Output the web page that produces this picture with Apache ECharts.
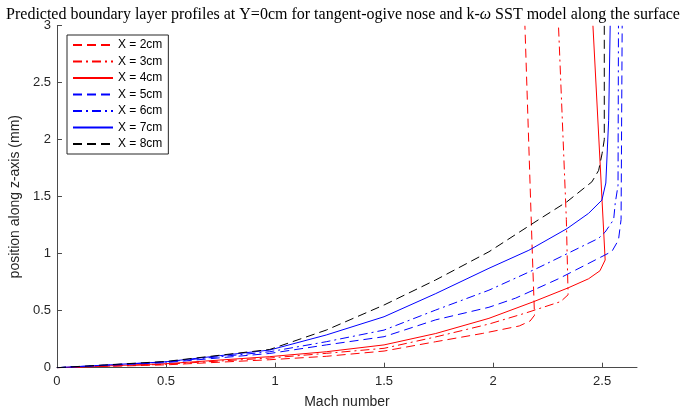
<!DOCTYPE html>
<html>
<head>
<meta charset="utf-8">
<script src="https://cdn.jsdelivr.net/npm/echarts@6/dist/echarts.min.js"></script>
<style>html,body{margin:0;padding:0;background:#fff}#c{width:686px;height:414px}</style>
</head>
<body>
<div id="c"></div>
<script>
const seriesNames = ['X = 2cm','X = 3cm','X = 4cm','X = 5cm','X = 6cm','X = 7cm','X = 8cm'];
const xTicks = [0, 0.5, 1, 1.5, 2, 2.5];
const yTicks = [0, 0.5, 1, 1.5, 2, 2.5, 3];
// [Mach number, position along z (mm)]
const x2cm = [[0,0],[0.5,0.025],[0.976,0.07],[1.235,0.10],[1.5,0.146],[1.737,0.228],[1.95,0.30],[2.12,0.366],[2.17,0.41],[2.19,0.46],[2.18,1.0],[2.146,3.0]];
const x3cm = [[0,0],[0.5,0.03],[0.976,0.085],[1.235,0.126],[1.5,0.17],[1.737,0.27],[1.981,0.383],[2.15,0.48],[2.31,0.58],[2.344,0.64],[2.336,1.3],[2.30,3.0]];
const x4cm = [[0,0],[0.5,0.035],[0.976,0.097],[1.235,0.14],[1.5,0.2],[1.737,0.30],[1.981,0.433],[2.187,0.58],[2.344,0.70],[2.438,0.78],[2.49,0.85],[2.514,0.945],[2.458,3.0]];
const x5cm = [[0,0],[0.5,0.045],[0.976,0.125],[1.235,0.2],[1.5,0.272],[1.737,0.42],[1.981,0.53],[2.103,0.61],[2.3,0.78],[2.484,0.96],[2.545,1.02],[2.575,1.12],[2.587,1.30],[2.592,3.0]];
const x6cm = [[0,0],[0.5,0.05],[0.976,0.14],[1.235,0.228],[1.5,0.33],[1.737,0.506],[1.981,0.68],[2.2,0.87],[2.484,1.135],[2.514,1.19],[2.553,1.30],[2.56,1.44],[2.573,1.6],[2.575,3.0]];
const x7cm = [[0,0],[0.5,0.052],[0.976,0.155],[1.235,0.287],[1.5,0.447],[1.737,0.65],[1.981,0.872],[2.164,1.03],[2.339,1.22],[2.438,1.354],[2.499,1.47],[2.517,1.62],[2.53,2.17],[2.537,3.0]];
const x8cm = [[0,0],[0.5,0.055],[0.976,0.16],[1.235,0.33],[1.5,0.55],[1.737,0.77],[1.981,1.017],[2.21,1.30],[2.339,1.456],[2.453,1.63],[2.484,1.73],[2.50,1.88],[2.51,2.0],[2.51,3.0]];

const allData = [x2cm, x3cm, x4cm, x5cm, x6cm, x7cm, x8cm];
const colors = ['#ff0000','#ff0000','#ff0000','#0000ff','#0000ff','#0000ff','#000000'];
const dashA = [9,5];
const dashDot = [9,4,2,4];
const types = [dashA, dashDot, 'solid', dashA, dashDot, 'solid', dashA];

const chart = echarts.init(document.getElementById('c'), null, {renderer:'canvas'});
const axisColor = '#4a4a4a';
chart.setOption({
  animation: false,
  backgroundColor: '#fff',
  title: {
    text: 'Predicted boundary layer profiles at Y=0cm for tangent-ogive nose and k-{w|ω} SST model along the surface',
    left: 'center', top: 2,
    textStyle: {
      fontFamily: 'Liberation Serif', fontSize: 16, fontWeight: 'normal', color: '#000',
      rich: { w: { fontFamily: 'Liberation Serif', fontSize: 16, fontStyle: 'italic', color: '#000' } }
    }
  },
  grid: { left: 56.5, right: 49, top: 25.7, bottom: 46.3 },
  legend: {
    orient: 'vertical', left: 67, top: 35,
    itemWidth: 40, itemHeight: 14, itemGap: 2.5,
    padding: [3, 6, 3, 5],
    borderColor: '#262626', borderWidth: 1, backgroundColor: '#fff',
    itemStyle: { opacity: 0, borderWidth: 0 },
    textStyle: { fontFamily: 'Liberation Sans', fontSize: 12, color: '#000', lineHeight: 14 },
    data: seriesNames
  },
  xAxis: {
    type: 'value', min: 0, max: 2.66, interval: 0.5,
    name: 'Mach number', nameLocation: 'middle', nameGap: 27,
    nameTextStyle: { fontFamily: 'Liberation Sans', fontSize: 14, color: '#262626' },
    axisLine: { show: true, lineStyle: { color: axisColor, width: 1 } },
    axisTick: { show: true, inside: true, length: 5, lineStyle: { color: axisColor }, customValues: xTicks },
    axisLabel: { fontFamily: 'Liberation Sans', fontSize: 13, color: '#262626', margin: 7, customValues: xTicks },
    splitLine: { show: false }
  },
  yAxis: {
    type: 'value', min: 0, max: 3, interval: 0.5,
    name: 'position along z-axis (mm)', nameLocation: 'middle', nameGap: 31,
    nameTextStyle: { fontFamily: 'Liberation Sans', fontSize: 14, color: '#262626' },
    axisLine: { show: true, lineStyle: { color: axisColor, width: 1 } },
    axisTick: { show: true, inside: true, length: 5, lineStyle: { color: axisColor }, customValues: yTicks },
    axisLabel: { fontFamily: 'Liberation Sans', fontSize: 13, color: '#262626', margin: 6, customValues: yTicks },
    splitLine: { show: false }
  },
  series: allData.map((d, i) => ({
    name: seriesNames[i], type: 'line', data: d,
    symbol: 'none', showSymbol: false, smooth: false, clip: true,
    color: colors[i],
    lineStyle: { color: colors[i], width: 1, type: types[i] }
  }))
});
</script>
</body>
</html>
